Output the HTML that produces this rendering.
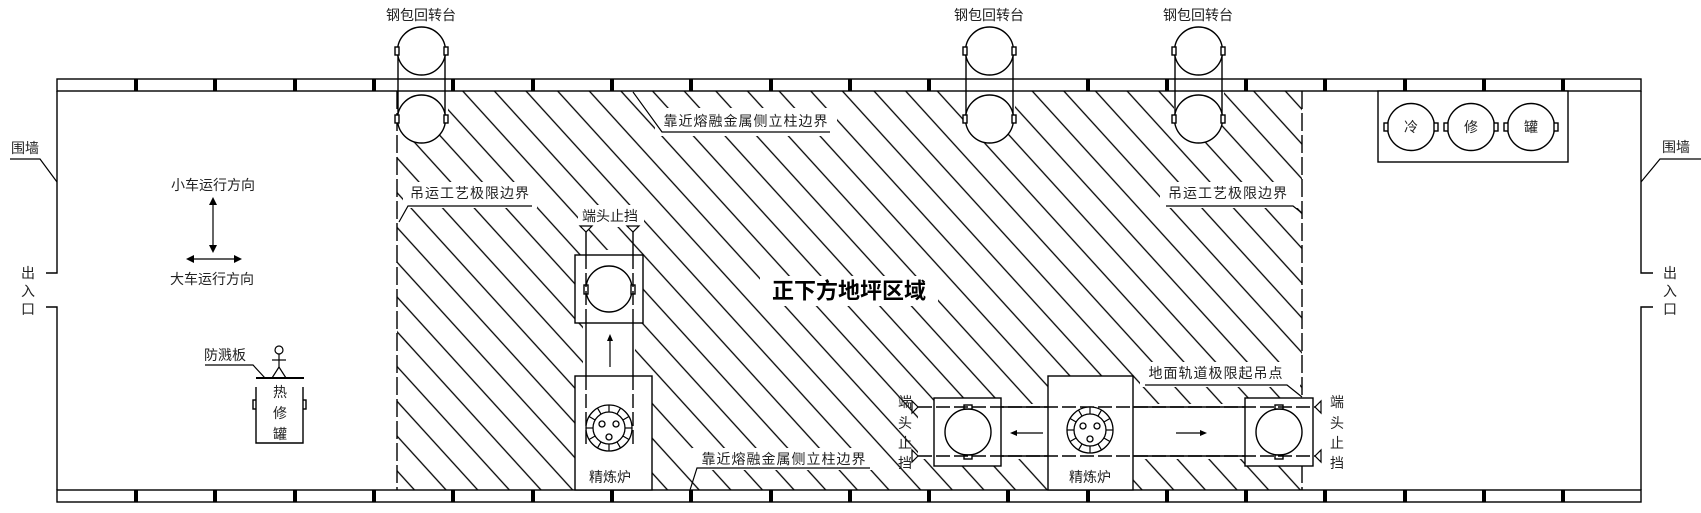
<!DOCTYPE html>
<html><head><meta charset="utf-8">
<style>
html,body{margin:0;padding:0;background:#fff;}
svg{display:block;}
text{font-family:"Liberation Sans","Noto Sans CJK SC",sans-serif;font-size:14px;fill:#222;}
</style></head>
<body>
<svg width="1701" height="513" viewBox="0 0 1701 513" xmlns="http://www.w3.org/2000/svg">
<defs>
<pattern id="h" patternUnits="userSpaceOnUse" width="23.4" height="40" patternTransform="rotate(-42.3 397 91)">
<line x1="1" y1="0" x2="1" y2="40" stroke="#000" stroke-width="1.3"/>
</pattern>
<clipPath id="hc"><rect x="397" y="91" width="905" height="399"/></clipPath>
</defs>
<rect width="1701" height="513" fill="#fff"/>
<!-- hatch -->
<rect x="397" y="91" width="905" height="399" fill="url(#h)"/>

<g fill="#fff" stroke="none">
<!-- masks -->
<rect x="655" y="108" width="182" height="28"/>
<rect x="403" y="182" width="134" height="26"/>
<rect x="1160" y="182" width="140" height="26"/>
<rect x="578" y="205" width="66" height="22"/>
<rect x="760" y="276" width="178" height="30"/>
<rect x="692" y="448" width="184" height="22"/>
<rect x="1140" y="362" width="160" height="25"/>
<rect x="396" y="48" width="52" height="76"/>
<rect x="965" y="48" width="50" height="76"/>
<rect x="1174" y="48" width="50" height="76"/>
<rect x="583" y="250" width="52" height="130"/>
<rect x="918" y="404" width="394" height="55"/>
</g>

<g fill="none" stroke="#000" stroke-width="1.4">
<!-- rails -->
<rect x="57" y="79" width="1584" height="12" fill="#fff"/>
<rect x="57" y="490" width="1584" height="12" fill="#fff"/>
<!-- walls -->
<polyline points="46,273 57,273 57,91"/>
<polyline points="46,307 57,307 57,490"/>
<polyline points="1653,273 1641,273 1641,91"/>
<polyline points="1653,307 1641,307 1641,490"/>
<!-- dashed boundaries -->
<line x1="397" y1="91" x2="397" y2="490" stroke-dasharray="18 4"/>
<line x1="1302" y1="91" x2="1302" y2="490" stroke-dasharray="18 4"/>
</g>

<!-- rail ticks -->
<g fill="#000">
<rect x="134" y="79" width="4" height="12"/><rect x="213" y="79" width="4" height="12"/><rect x="293" y="79" width="4" height="12"/><rect x="372" y="79" width="4" height="12"/><rect x="451" y="79" width="4" height="12"/><rect x="531" y="79" width="4" height="12"/><rect x="610" y="79" width="4" height="12"/><rect x="689" y="79" width="4" height="12"/><rect x="769" y="79" width="4" height="12"/><rect x="848" y="79" width="4" height="12"/><rect x="927" y="79" width="4" height="12"/><rect x="1086" y="79" width="4" height="12"/><rect x="1165" y="79" width="4" height="12"/><rect x="1244" y="79" width="4" height="12"/><rect x="1323" y="79" width="4" height="12"/><rect x="1403" y="79" width="4" height="12"/><rect x="1482" y="79" width="4" height="12"/><rect x="1561" y="79" width="4" height="12"/>
<rect x="134" y="490" width="4" height="12"/><rect x="213" y="490" width="4" height="12"/><rect x="293" y="490" width="4" height="12"/><rect x="372" y="490" width="4" height="12"/><rect x="451" y="490" width="4" height="12"/><rect x="531" y="490" width="4" height="12"/><rect x="610" y="490" width="4" height="12"/><rect x="689" y="490" width="4" height="12"/><rect x="769" y="490" width="4" height="12"/><rect x="848" y="490" width="4" height="12"/><rect x="927" y="490" width="4" height="12"/><rect x="1006" y="490" width="4" height="12"/><rect x="1086" y="490" width="4" height="12"/><rect x="1165" y="490" width="4" height="12"/><rect x="1244" y="490" width="4" height="12"/><rect x="1323" y="490" width="4" height="12"/><rect x="1403" y="490" width="4" height="12"/><rect x="1482" y="490" width="4" height="12"/><rect x="1561" y="490" width="4" height="12"/>
</g>

<g fill="#fff" stroke="#000" stroke-width="1.4">
<!-- turrets -->
<line x1="398" y1="51" x2="398" y2="119"/><line x1="445" y1="51" x2="445" y2="119"/>
<circle cx="421.5" cy="51" r="24"/><circle cx="421.5" cy="119" r="24"/>
<rect x="395" y="47" width="4" height="8"/><rect x="444" y="47" width="4" height="8"/>
<rect x="395" y="115" width="4" height="8"/><rect x="444" y="115" width="4" height="8"/>

<line x1="966" y1="51" x2="966" y2="119"/><line x1="1013" y1="51" x2="1013" y2="119"/>
<circle cx="989.5" cy="51" r="24"/><circle cx="989.5" cy="119" r="24"/>
<rect x="963" y="47" width="4" height="8"/><rect x="1012" y="47" width="4" height="8"/>
<rect x="963" y="115" width="4" height="8"/><rect x="1012" y="115" width="4" height="8"/>

<line x1="1175" y1="51" x2="1175" y2="119"/><line x1="1222" y1="51" x2="1222" y2="119"/>
<circle cx="1198.5" cy="51" r="24"/><circle cx="1198.5" cy="119" r="24"/>
<rect x="1172" y="47" width="4" height="8"/><rect x="1221" y="47" width="4" height="8"/>
<rect x="1172" y="115" width="4" height="8"/><rect x="1221" y="115" width="4" height="8"/>

<!-- cold repair -->
<rect x="1378" y="91" width="190" height="71"/>
<circle cx="1411" cy="127" r="23.5"/><circle cx="1471" cy="127" r="23.5"/><circle cx="1531" cy="127" r="23.5"/>
<rect x="1384" y="123" width="4" height="8"/><rect x="1434" y="123" width="4" height="8"/>
<rect x="1444" y="123" width="4" height="8"/><rect x="1494" y="123" width="4" height="8"/>
<rect x="1504" y="123" width="4" height="8"/><rect x="1554" y="123" width="4" height="8"/>

<!-- hot repair -->
<rect x="253" y="400" width="4" height="9"/><rect x="302" y="400" width="4" height="9"/>
<polyline points="256,387 256,443 303,443 303,387"/>

<!-- left vertical track -->
<rect x="575" y="376" width="77" height="114"/>
<rect x="575" y="255" width="68" height="68"/>
<circle cx="609" cy="289" r="23"/>
<rect x="584" y="285" width="4" height="9"/><rect x="631" y="285" width="4" height="9"/>

<!-- horizontal track boxes -->
<rect x="1048" y="376" width="85" height="114"/>
<rect x="934" y="398" width="67" height="68"/>
<rect x="1245" y="398" width="68" height="68"/>
<circle cx="968" cy="432" r="23"/>
<circle cx="1279" cy="432" r="23"/>
<rect x="964" y="405" width="8" height="4"/><rect x="964" y="455" width="8" height="4"/>
<rect x="1275" y="405" width="8" height="4"/><rect x="1275" y="455" width="8" height="4"/>
</g>

<g fill="none" stroke="#000" stroke-width="1.4">
<!-- left rails -->
<line x1="586" y1="229" x2="586" y2="255"/><line x1="633" y1="229" x2="633" y2="255"/>
<line x1="586" y1="255" x2="586" y2="323" stroke-dasharray="14 4"/><line x1="633" y1="255" x2="633" y2="323" stroke-dasharray="14 4"/>
<line x1="586" y1="323" x2="586" y2="376"/><line x1="633" y1="323" x2="633" y2="376"/>
<line x1="586" y1="376" x2="586" y2="445" stroke-dasharray="14 4"/><line x1="633" y1="376" x2="633" y2="445" stroke-dasharray="14 4"/>
<!-- horizontal rails -->
<line x1="918" y1="407" x2="1315" y2="407" stroke-dasharray="14 4"/>
<line x1="918" y1="456" x2="1315" y2="456" stroke-dasharray="14 4"/>
<line x1="1001" y1="407" x2="1048" y2="407"/><line x1="1133" y1="407" x2="1245" y2="407"/>
<line x1="1001" y1="456" x2="1048" y2="456"/><line x1="1133" y1="456" x2="1245" y2="456"/>
</g>
<g fill="#fff" stroke="#000" stroke-width="1.2">
<!-- stops -->
<polygon points="580,226 592,226 586,232"/><polygon points="627,226 639,226 633,232"/>
<polygon points="912,401 912,413 918,407"/><polygon points="912,450 912,462 918,456"/>
<polygon points="1321,401 1321,413 1315,407"/><polygon points="1321,450 1321,462 1315,456"/>
</g>

<!-- furnaces -->
<g fill="#fff" stroke="#000" stroke-width="1.3">
<circle cx="609" cy="428" r="23"/><circle cx="609" cy="428" r="16"/>
<circle cx="602" cy="424" r="3"/><circle cx="616" cy="424" r="3"/><circle cx="609" cy="437" r="3"/>
<circle cx="1090" cy="430" r="23"/><circle cx="1090" cy="430" r="16"/>
<circle cx="1083" cy="426" r="3"/><circle cx="1097" cy="426" r="3"/><circle cx="1090" cy="439" r="3"/>
</g>
<g stroke="#000" stroke-width="1.2">
<g transform="translate(609 428)">
<line x1="16" y1="0" x2="23" y2="0"/><line x1="-16" y1="0" x2="-23" y2="0"/><line x1="0" y1="16" x2="0" y2="23"/><line x1="0" y1="-16" x2="0" y2="-23"/>
<line x1="13.9" y1="8" x2="19.9" y2="11.5"/><line x1="-13.9" y1="8" x2="-19.9" y2="11.5"/><line x1="13.9" y1="-8" x2="19.9" y2="-11.5"/><line x1="-13.9" y1="-8" x2="-19.9" y2="-11.5"/>
<line x1="8" y1="13.9" x2="11.5" y2="19.9"/><line x1="-8" y1="13.9" x2="-11.5" y2="19.9"/><line x1="8" y1="-13.9" x2="11.5" y2="-19.9"/><line x1="-8" y1="-13.9" x2="-11.5" y2="-19.9"/>
</g>
<g transform="translate(1090 430)">
<line x1="16" y1="0" x2="23" y2="0"/><line x1="-16" y1="0" x2="-23" y2="0"/><line x1="0" y1="16" x2="0" y2="23"/><line x1="0" y1="-16" x2="0" y2="-23"/>
<line x1="13.9" y1="8" x2="19.9" y2="11.5"/><line x1="-13.9" y1="8" x2="-19.9" y2="11.5"/><line x1="13.9" y1="-8" x2="19.9" y2="-11.5"/><line x1="-13.9" y1="-8" x2="-19.9" y2="-11.5"/>
<line x1="8" y1="13.9" x2="11.5" y2="19.9"/><line x1="-8" y1="13.9" x2="-11.5" y2="19.9"/><line x1="8" y1="-13.9" x2="11.5" y2="-19.9"/><line x1="-8" y1="-13.9" x2="-11.5" y2="-19.9"/>
</g>
</g>

<!-- arrows and leaders -->
<g stroke="#000" stroke-width="1.2" fill="none">
<line x1="213" y1="201" x2="213" y2="249"/>
<line x1="190" y1="259" x2="238" y2="259"/>
<line x1="610" y1="367" x2="610" y2="338"/>
<line x1="1043" y1="433" x2="1014" y2="433"/>
<line x1="1176" y1="433" x2="1203" y2="433"/>
<!-- 围墙 leaders -->
<polyline points="10,159 40,159 57,182"/>
<polyline points="1701,159 1660,159 1641,182"/>
<polyline points="633,92 662,132 830,132"/>
<polyline points="399,222 408,206 532,206"/>
<polyline points="1166,206 1293,206 1302,213"/>
<polyline points="690,490 697,468 870,468"/>
<polyline points="1145,385 1287,385 1302,397"/>
<polyline points="205,365 253,365 265,378"/>
<line x1="256" y1="378" x2="304" y2="378" stroke-width="2"/>
<!-- person -->
<circle cx="279" cy="350" r="4"/>
<line x1="279" y1="354" x2="279" y2="367"/>
<line x1="272" y1="360" x2="286" y2="360"/>
<polyline points="272,378 279,367 286,378"/>
</g>
<g fill="#000">
<polygon points="213,197 209,205 217,205"/><polygon points="213,253 209,245 217,245"/>
<polygon points="186,259 194,255 194,263"/><polygon points="242,259 234,255 234,263"/>
<polygon points="610,334 607,341 613,341"/>
<polygon points="1010,433 1017,430 1017,436"/>
<polygon points="1207,433 1200,430 1200,436"/>
</g>

<!-- text -->
<g text-anchor="middle" dominant-baseline="central">
<text x="421" y="15">钢包回转台</text>
<text x="989" y="15">钢包回转台</text>
<text x="1198" y="15">钢包回转台</text>
<text x="25" y="148">围墙</text>
<text x="1676" y="147">围墙</text>
<text x="213" y="185">小车运行方向</text>
<text x="212" y="279">大车运行方向</text>
<text x="28" y="273">出</text><text x="28" y="291">入</text><text x="28" y="309">口</text>
<text x="1670" y="273">出</text><text x="1670" y="291">入</text><text x="1670" y="309">口</text>
<text x="746" y="121" letter-spacing="1">靠近熔融金属侧立柱边界</text>
<text x="470" y="193" letter-spacing="1">吊运工艺极限边界</text>
<text x="1228" y="193" letter-spacing="1">吊运工艺极限边界</text>
<text x="610" y="216">端头止挡</text>
<text x="849" y="291" style="font-size:22px;font-weight:bold;fill:#000">正下方地坪区域</text>
<text x="225" y="355">防溅板</text>
<text x="280" y="392">热</text><text x="280" y="413">修</text><text x="280" y="434">罐</text>
<text x="1411" y="127">冷</text><text x="1471" y="127">修</text><text x="1531" y="127">罐</text>
<text x="610" y="477">精炼炉</text>
<text x="1090" y="477">精炼炉</text>
<text x="784" y="459" letter-spacing="1">靠近熔融金属侧立柱边界</text>
<text x="1216" y="373" letter-spacing="1">地面轨道极限起吊点</text>
<text x="905" y="402">端</text><text x="905" y="423">头</text><text x="905" y="443">止</text><text x="905" y="463">挡</text>
<text x="1337" y="402">端</text><text x="1337" y="423">头</text><text x="1337" y="443">止</text><text x="1337" y="463">挡</text>
</g>
</svg>
</body></html>
